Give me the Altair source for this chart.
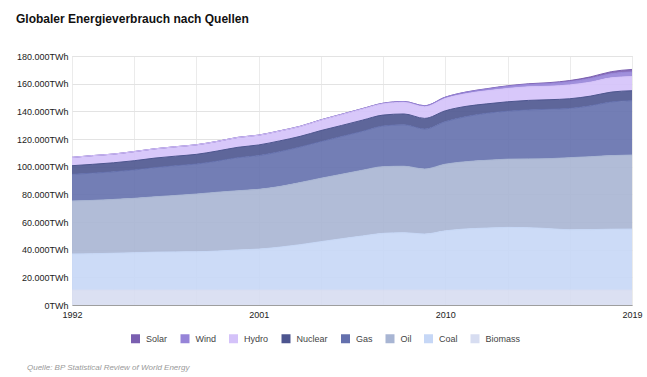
import altair as alt
import pandas as pd

years = list(range(1992, 2020))

# values in TWh
biomass = [10800] * 28
coal_top = [36900, 37100, 37400, 37800, 38200, 38400, 38500, 39000, 39800, 40400,
            41800, 43600, 45800, 47900, 49900, 51800, 52300, 51300, 53600, 55000,
            55600, 56100, 55900, 55200, 54400, 54500, 54800, 54900]
oil_top = [75200, 75600, 76300, 77100, 78200, 79200, 80200, 81500, 82600, 83600,
           85600, 88500, 91600, 94500, 97400, 100000, 100300, 98300, 101800, 103600,
           104600, 105400, 105600, 105800, 106500, 107200, 108000, 108400]
gas_top = [94500, 95300, 96300, 97600, 99300, 100700, 101900, 104000, 106500, 108000,
           110800, 114200, 118100, 121800, 125500, 129400, 130300, 127200, 132600, 136200,
           138600, 140100, 141000, 141500, 142100, 144000, 146800, 147700]
coal = [c - b for c, b in zip(coal_top, biomass)]
oil = [o - c for o, c in zip(oil_top, coal_top)]
gas = [g - o for g, o in zip(gas_top, oil_top)]
nuclear = [6200, 6400, 6500, 6700, 6900, 6900, 7000, 7300, 7500, 7700,
           7800, 7700, 8000, 8000, 8100, 7900, 7800, 7700, 7800, 7400,
           6800, 6800, 6900, 6900, 7000, 7000, 7100, 7200]
hydro = [6000, 6300, 6300, 6600, 6700, 6800, 6900, 6900, 7100, 7000,
         7100, 7100, 7500, 7800, 8000, 8100, 8400, 8400, 8900, 9100,
         9400, 9600, 9800, 9700, 10000, 10100, 10300, 10200]
wind = [10, 10, 20, 20, 30, 30, 40, 60, 80, 100,
        140, 170, 220, 270, 340, 440, 570, 730, 900, 1120,
        1320, 1600, 1740, 2020, 2350, 2720, 3040, 3400]
solar = [1, 1, 1, 1, 1, 2, 2, 2, 3, 3,
         4, 5, 7, 10, 15, 20, 30, 50, 90, 170,
         260, 350, 480, 620, 810, 1100, 1430, 1790]

sources = ["Solar", "Wind", "Hydro", "Nuclear", "Gas", "Oil", "Coal", "Biomass"]
colors = ["#7a5fb0", "#9684d8", "#d4c2f9", "#4d558f", "#6470ad", "#a8b5d3", "#c6d7f6", "#d7ddf1"]
series = {"Solar": solar, "Wind": wind, "Hydro": hydro, "Nuclear": nuclear,
          "Gas": gas, "Oil": oil, "Coal": coal, "Biomass": biomass}

rows = []
for s in sources:
    for y, v in zip(years, series[s]):
        rows.append({"year": y, "source": s, "value": v, "ord": len(sources) - sources.index(s)})
df = pd.DataFrame(rows)

area = alt.Chart(df).mark_area(
    interpolate="monotone", fillOpacity=0.9, line={"strokeWidth": 1}
).encode(
    x=alt.X("year:Q", scale=alt.Scale(domain=[1992, 2019], nice=False, zero=False),
            axis=alt.Axis(values=list(range(1992, 2020, 3)), title=None,
                          labelExpr="(datum.value - 1992) % 9 == 0 ? datum.value : ''",
                          ticks=False, domainColor="#9e9e9e", gridColor="#ebebeb",
                          labelPadding=5, labelFontSize=9, labelColor="#222",
                          labelFont="Liberation Sans", labelFlush=False)),
    y=alt.Y("value:Q", stack="zero", scale=alt.Scale(domain=[0, 180000], nice=False),
            axis=alt.Axis(values=list(range(0, 180001, 20000)), title=None,
                          labelExpr="replace(format(datum.value, ',d'), /,/g, '.') + 'TWh'",
                          ticks=False, domain=False, gridColor="#e3e3e3",
                          labelPadding=4, labelFontSize=9, labelColor="#222",
                          labelFont="Liberation Sans")),
    color=alt.Color("source:N", scale=alt.Scale(domain=sources, range=colors),
                    legend=alt.Legend(title=None, orient="none", direction="horizontal",
                                      legendX=59, legendY=278, symbolType="square",
                                      symbolSize=81, symbolStrokeWidth=0, symbolOpacity=1,
                                      labelFontSize=9, labelFont="Liberation Sans",
                                      labelColor="#444", labelOffset=6, columnPadding=12.5,
                                      padding=0, columns=8)),
    order=alt.Order("ord:Q", sort="ascending"),
)

footer = alt.Chart(alt.Data(values=[{}])).mark_text(
    align="left", baseline="alphabetic", fontSize=8, fontStyle="italic",
    font="Liberation Sans", color="#999"
).encode(x=alt.value(-45), y=alt.value(314),
         text=alt.value("Quelle: BP Statistical Review of World Energy"))

chart = alt.layer(area, footer).properties(
    width=560, height=249,
    title=alt.TitleParams("Globaler Energieverbrauch nach Quellen", anchor="start",
                          frame="group", dx=-56, offset=17, fontSize=12,
                          font="Liberation Sans", fontWeight="bold", color="#111",
                          baseline="alphabetic"),
    autosize=alt.AutoSizeParams(type="none"),
    padding={"left": 72, "top": 56, "right": 15, "bottom": 72},
).configure_view(stroke=None).configure(background="white")

chart.save("out.html", embed_options={"renderer": "svg", "actions": False})
